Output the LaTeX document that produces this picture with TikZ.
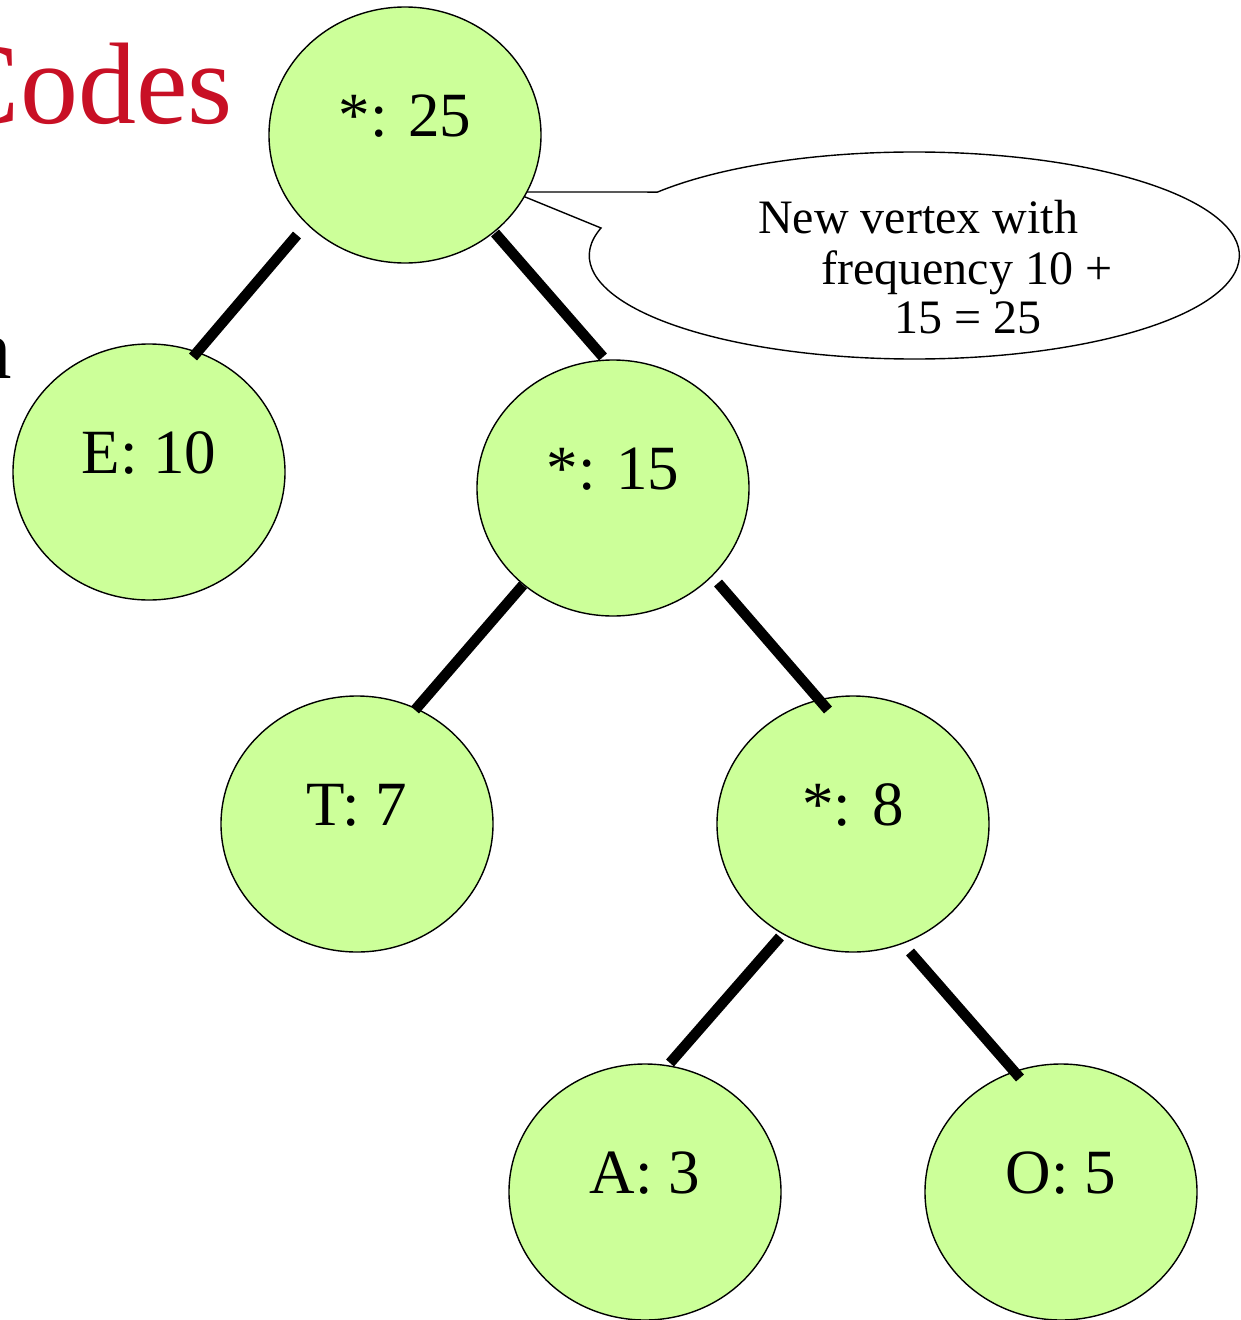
\documentclass[tikz,border=0pt]{standalone}
\usepackage{fontspec}
\setmainfont{Liberation Serif}
\usetikzlibrary{shapes.geometric}
\definecolor{nodegreen}{RGB}{204,255,153}
\definecolor{titlered}{RGB}{200,16,37}

\begin{document}
\begin{tikzpicture}[x=1pt,y=1pt,
  vertex/.style={ellipse, draw=black, line width=1.4pt, fill=nodegreen,
    minimum width=272pt, minimum height=256pt, inner sep=0pt,
    text height=43pt, text depth=40pt, font=\fontsize{63}{70}\selectfont},
  branch/.style={line width=10.5pt, line cap=butt},
  note/.style={anchor=base west, inner sep=0pt, font=\fontsize{48}{52}\selectfont}]
\useasboundingbox (0,0) rectangle (1240,-1320);

% slide title fragments
\node[anchor=base east, inner sep=0pt, text=titlered,
      font=\fontsize{116}{120}\selectfont] (title) at (233,-123) {Codes};
\node[anchor=base east, inner sep=0pt,
      font=\fontsize{85}{90}\selectfont] (sidetext) at (12,-378) {n};

% speech bubble pointing at the root
\coordinate (tip) at (513,-192);
\draw[line width=1.4pt, fill=white] (601,-228)
  arc[start angle=164.6, end angle=502.2, x radius=325pt, y radius=103.5pt]
  -- (tip) -- cycle;
\node[note] (noteA) at (758,-233) {New vertex with};
\node[note] (noteB) at (821,-284) {frequency 10 +};
\node[note] (noteC) at (894,-333) {15 = 25};

% tree vertices
\node[vertex] (root) at (405,-135)  {*: 25};
\node[vertex] (e)    at (149,-472)  {E: 10};
\node[vertex] (s15)  at (613,-488)  {*: 15};
\node[vertex] (t)    at (357,-824)  {T: 7};
\node[vertex] (s8)   at (853,-824)  {*: 8};
\node[vertex] (a)    at (645,-1192) {A: 3};
\node[vertex] (o)    at (1061,-1192){O: 5};

% tree edges
\draw[branch] ([shift={(-108,-100)}]root.center) -- ([shift={(44,115)}]e.center);
\draw[branch] ([shift={(90,-98)}]root.center)    -- ([shift={(-10,131)}]s15.center);
\draw[branch] ([shift={(-90,-97)}]s15.center)    -- ([shift={(58,114)}]t.center);
\draw[branch] ([shift={(105,-95)}]s15.center)    -- ([shift={(-25,114)}]s8.center);
\draw[branch] ([shift={(-73,-113)}]s8.center)    -- ([shift={(25,129)}]a.center);
\draw[branch] ([shift={(57,-128)}]s8.center)     -- ([shift={(-41,114)}]o.center);
\end{tikzpicture}
\end{document}
